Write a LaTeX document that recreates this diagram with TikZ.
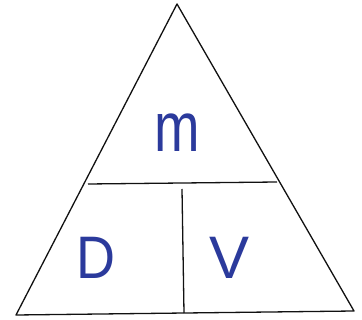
\documentclass[tikz,border=0pt]{standalone}
\usepackage{fontspec}
\setmainfont{Liberation Sans}
\usetikzlibrary{positioning, calc}
\definecolor{InkBlue}{HTML}{2B3A9C}
\definecolor{InkDark}{HTML}{111111}

\begin{document}
\begin{tikzpicture}[x=1pt, y=-1pt,
        edge/.style={draw=InkDark, line width=1.3pt, line join=round},
        letter/.style={text=InkBlue, inner sep=0pt, font=\fontsize{60}{60}\selectfont}]
        \useasboundingbox[fill=white] (0,0) rectangle (362,320);

        % outer triangle
        \coordinate (top) at (177,4);
        \coordinate (bl) at (16,315);
        \coordinate (br) at (354,311);
        \draw[edge] (top) -- (bl) -- (br) -- cycle;

        % dividers
        \coordinate (hl) at (88,184);
        \coordinate (hr) at (277,182);
        \coordinate (vt) at (182,189);
        \coordinate (vb) at (184,313);
        \draw[edge] (hl) -- (hr);
        \draw[edge] (vt) -- (vb);

        \node[letter, font=\fontsize{70}{70}\selectfont, xscale=0.78] (mass) at (177,133) {m};
        \node[letter, xscale=0.9] (dens) at (96,258) {D};
        \node[letter] (vol) at (230,258) {V};
    \end{tikzpicture}
\end{document}
